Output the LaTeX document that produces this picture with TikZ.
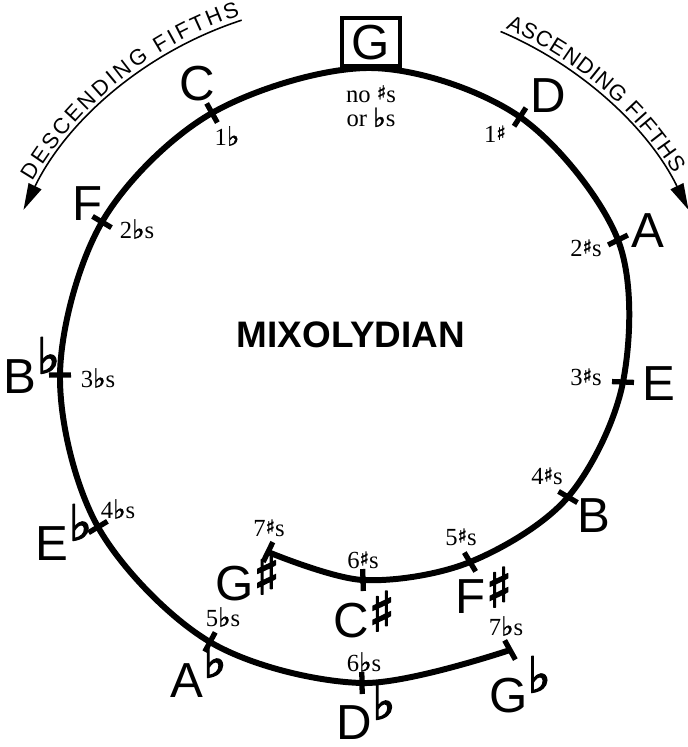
\documentclass[tikz,border=0pt]{standalone}
\usepackage{fontspec}
\setmainfont{Liberation Serif}
\setsansfont{Liberation Sans}
\newfontfamily\symfont[FakeBold=1.5]{DejaVu Sans}
\newfontfamily\bigsymfont[FakeBold=3]{DejaVu Sans}
\usetikzlibrary{arrows.meta,calc,positioning,decorations.text}

\newcommand{\flt}{{\symfont\fontsize{15}{15}\selectfont ♭}}
\newcommand{\shp}{\raisebox{.25ex}{\symfont\fontsize{11}{11}\selectfont ♯}}
\newcommand{\bigflt}{\raisebox{.4em}{\bigsymfont\fontsize{28}{28}\selectfont ♭}}
\newcommand{\bigshp}{\raisebox{.12em}{\bigsymfont\fontsize{31}{31}\selectfont ♯}}

\begin{document}
\begin{tikzpicture}[x=0.02cm,y=-0.02cm,
  curve/.style={line width=3.4pt,line join=round},
  tick/.style={line width=3pt},
  note/.style={font=\sffamily\fontsize{28}{30}\selectfont,inner sep=0pt,anchor=base},
  gbox/.style={draw,line width=2pt,inner sep=0pt,minimum width=1.16cm,
    minimum height=0.96cm,font=\sffamily\fontsize{28}{30}\selectfont},
  key/.style={font=\fontsize{14}{14}\selectfont,inner sep=0pt},
  fifths/.style={line width=0.9pt,-{Triangle[length=15pt,width=8pt]}},
  arctext/.style={decorate,decoration={text along path,text align={fit to path},
    text={|\sffamily\fontsize{12.5}{12.5}\selectfont|#1}}}]
  \useasboundingbox (0,0) rectangle (687,747);
  \coordinate (O) at (356,372);
  % points of the spiral, inner end first
  \foreach \n/\x/\y in {Gs/268/552, Cs/363/580, Fs/470/562, B/568/497,
      E/623/382, A/618/240, D/520/117, G/371/68, C/212/113, F/102/222,
      Bb/60/375, Eb/98/527, Ab/210/642, Db/362/683, Gb/510/650}
    \coordinate (\n) at (\x,\y);
  \draw[curve] plot[smooth,tension=0.55] coordinates {(Gs) (Cs) (Fs) (B) (E)
    (A) (D) (G) (C) (F) (Bb) (Eb) (Ab) (Db) (Gb)};
  \foreach \p in {Gs,Cs,Fs,B,E,A,D,C,F,Bb,Eb,Ab,Db,Gb}
    \draw[tick] ($(\p)!0.22cm!(O)$) -- ($(\p)!-0.22cm!(O)$);

  \node[gbox,above=0pt of G] (nG) {G};
  \node[key,align=center,below=0.34cm of G] (kG) {no \shp s\\or \flt s};
  \node[font=\sffamily\bfseries\fontsize{21}{21}\selectfont] (mode) at (351,335) {MIXOLYDIAN};

  \foreach \n/\t/\x/\y in {C/C/197.5/100, D/D/548/112, F/F/87.5/220, A/A/647.5/247,
      Bb/B\bigflt/32/393, E/E/658.5/400, Eb/E\bigflt/64/560, B/B/594/532,
      Gs/G\bigshp/247.5/600, Cs/C\bigshp/364/637, Fs/F\bigshp/484/613,
      Ab/A\bigflt/198.5/697, Db/D\bigflt/366/739, Gb/G\bigflt/520/712}
    \node[note] (n\n) at (\x,\y) {\t};

  \foreach \n/\t/\x/\y in {C/1\flt/227/136, F/2\flt s/137/229, Bb/3\flt s/98/378,
      Eb/4\flt s/118/509, Ab/5\flt s/223/617, Db/6\flt s/364/662, Gb/7\flt s/506/626,
      D/1\shp/495/134, A/2\shp s/586/248, E/3\shp s/586/377, B/4\shp s/547/476,
      Fs/5\shp s/461/537, Cs/6\shp s/363/560, Gs/7\shp s/269/528}
    \node[key] (k\n) at (\x,\y) {\t};

  \draw[fifths] ($(O)+(108:7.4cm)$) arc[start angle=108,end angle=154,radius=7.4cm];
  \draw[fifths] ($(O)+(67:7.4cm)$) arc[start angle=67,end angle=26,radius=7.4cm];
  \path[arctext={DESCENDING FIFTHS}] ($(O)+(149.5:7.5cm)$)
    arc[start angle=149.5,end angle=108,radius=7.5cm];
  \path[arctext={ASCENDING FIFTHS}] ($(O)+(66.5:7.5cm)$)
    arc[start angle=66.5,end angle=32,radius=7.5cm];
\end{tikzpicture}
\end{document}
